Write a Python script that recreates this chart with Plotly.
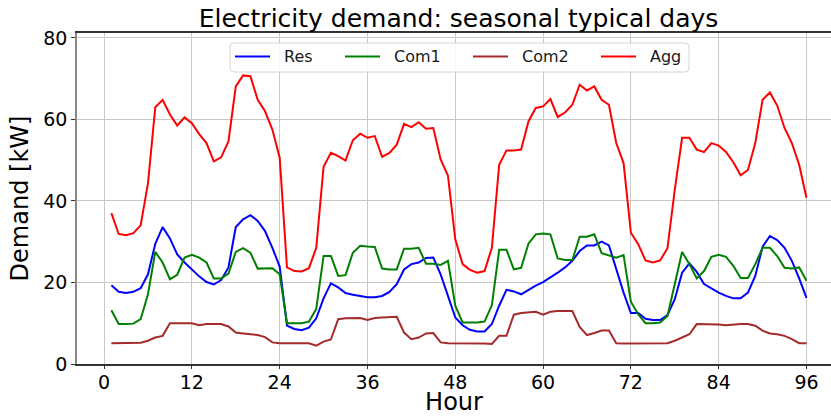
import plotly.graph_objects as go

# Hourly demand [kW] over four seasonal typical days (96 hours)
hours = list(range(1, 97))

res = [19.3, 17.7, 17.4, 17.7, 18.6, 22.0, 29.5, 33.6, 30.8, 26.9, 24.9, 23.1,
       21.5, 20.1, 19.5, 20.6, 23.7, 33.6, 35.5, 36.5, 35.1, 32.6, 28.5, 23.9,
       9.4, 8.6, 8.3, 8.9, 11.2, 16.1, 19.8, 18.8, 17.4, 17.0, 16.7, 16.4,
       16.4, 16.7, 17.7, 19.6, 23.2, 24.5, 24.9, 26.0, 26.1, 22.0, 16.7, 11.4,
       9.5, 8.4, 8.0, 8.0, 9.8, 14.3, 18.2, 17.8, 17.1, 18.2, 19.2, 20.1,
       21.2, 22.4, 23.7, 25.3, 27.7, 29.1, 29.1, 30.0, 29.1, 23.2, 17.5, 12.5,
       12.5, 11.1, 10.8, 10.8, 12.0, 15.9, 22.4, 24.7, 22.6, 19.6, 18.5, 17.5,
       16.7, 16.1, 16.1, 17.5, 21.6, 28.8, 31.4, 30.4, 28.5, 25.3, 21.0, 16.2]

com1 = [13.2, 9.8, 9.8, 9.9, 11.0, 17.1, 27.5, 24.9, 20.8, 21.9, 26.1, 26.8,
        26.1, 24.9, 21.0, 21.0, 22.2, 27.5, 28.4, 27.3, 23.4, 23.4, 23.5, 22.0,
        10.0, 10.0, 10.0, 10.4, 13.5, 26.5, 26.5, 21.6, 21.8, 27.3, 29.0, 28.8,
        28.7, 23.4, 23.2, 23.2, 28.3, 28.3, 28.5, 24.6, 24.6, 24.3, 25.3, 14.3,
        10.2, 10.2, 10.2, 10.4, 14.4, 28.0, 28.0, 23.2, 23.6, 29.5, 31.8, 32.0,
        31.8, 25.9, 25.5, 25.5, 31.2, 31.2, 31.8, 27.2, 26.7, 26.1, 26.7, 15.3,
        12.2, 10.0, 10.0, 10.2, 11.8, 19.6, 27.5, 24.5, 21.0, 22.8, 26.3, 26.8,
        26.3, 24.1, 21.1, 21.1, 24.5, 28.5, 28.5, 26.5, 23.6, 23.4, 23.7, 20.4]

com2 = [5.1, 5.1, 5.1, 5.1, 5.2, 5.7, 6.5, 6.9, 10.0, 10.0, 10.0, 10.0,
        9.5, 9.8, 9.8, 9.8, 9.2, 7.7, 7.5, 7.3, 7.1, 6.6, 5.3, 5.1,
        5.1, 5.1, 5.1, 5.1, 4.5, 5.5, 6.0, 11.0, 11.2, 11.3, 11.3, 10.8,
        11.3, 11.4, 11.5, 11.6, 7.7, 6.1, 6.5, 7.5, 7.6, 5.3, 5.1, 5.1,
        5.0, 5.0, 5.0, 5.0, 4.9, 6.9, 6.9, 12.1, 12.5, 12.6, 12.8, 12.1,
        12.8, 13.0, 13.0, 13.0, 9.1, 7.1, 7.6, 8.2, 8.2, 5.1, 5.0, 5.0,
        5.0, 5.0, 5.1, 5.1, 5.1, 5.7, 6.5, 7.3, 9.8, 9.8, 9.8, 9.7,
        9.5, 9.7, 9.8, 9.8, 9.4, 8.2, 7.5, 7.3, 6.9, 6.1, 5.1, 5.1]

agg = [37.0, 31.9, 31.6, 32.1, 34.0, 44.3, 63.0, 64.8, 61.2, 58.5, 60.5, 59.1,
       56.4, 54.2, 49.7, 50.7, 54.6, 68.1, 70.8, 70.6, 64.8, 62.0, 57.5, 50.6,
       23.7, 22.8, 22.7, 23.5, 28.5, 48.4, 51.8, 51.0, 49.9, 54.9, 56.5, 55.5,
       55.9, 50.8, 51.8, 53.8, 58.9, 58.1, 59.3, 57.7, 57.9, 50.2, 46.2, 30.6,
       24.5, 23.1, 22.4, 22.8, 28.5, 48.9, 52.4, 52.4, 52.6, 59.5, 62.8, 63.2,
       65.0, 60.6, 61.7, 63.6, 68.5, 67.1, 68.1, 64.8, 63.6, 54.2, 49.3, 32.2,
       29.4, 25.4, 24.9, 25.4, 28.4, 42.8, 55.5, 55.5, 52.6, 52.0, 54.2, 53.6,
       52.0, 49.5, 46.3, 47.6, 54.2, 64.8, 66.6, 63.4, 57.9, 54.2, 48.9, 40.8]

x_ticks = [0, 12, 24, 36, 48, 60, 72, 84, 96]
y_ticks = [0, 20, 40, 60, 80]

series = [("Res", res, "blue"), ("Com1", com1, "green"),
          ("Com2", com2, "brown"), ("Agg", agg, "red")]

FONT = "DejaVu Sans"

# figure / plot-area geometry in pixels
W, H = 831, 416
ML, MR, MT, MB = 77, 0, 33, 52
PW, PH = W - ML - MR, H - MT - MB


def px(x):
    """pixel column -> paper x"""
    return (x - ML) / PW


def py(y):
    """pixel row (from top) -> paper y"""
    return (H - MB - y) / PH


fig = go.Figure()
for name, vals, color in series:
    fig.add_trace(go.Scatter(x=hours, y=vals, name=name, mode="lines",
                             line=dict(color=color, width=2),
                             showlegend=False))

# Legend: framed single row at the top centre of the axes
box_l, box_r, box_t, box_b, rad = 230, 689, 43, 72, 4
path = (f"M {px(box_l + rad)},{py(box_t)} L {px(box_r - rad)},{py(box_t)} "
        f"Q {px(box_r)},{py(box_t)} {px(box_r)},{py(box_t + rad)} "
        f"L {px(box_r)},{py(box_b - rad)} "
        f"Q {px(box_r)},{py(box_b)} {px(box_r - rad)},{py(box_b)} "
        f"L {px(box_l + rad)},{py(box_b)} "
        f"Q {px(box_l)},{py(box_b)} {px(box_l)},{py(box_b - rad)} "
        f"L {px(box_l)},{py(box_t + rad)} "
        f"Q {px(box_l)},{py(box_t)} {px(box_l + rad)},{py(box_t)} Z")
shapes = [dict(type="path", xref="paper", yref="paper", path=path,
               fillcolor="rgba(255,255,255,0.8)",
               line=dict(color="#d4d4d4", width=1), layer="above")]
annotations = []
entry_x = [235, 345, 473, 601]
row_y = 56.5
for (name, _, color), x0 in zip(series, entry_x):
    shapes.append(dict(type="line", xref="paper", yref="paper",
                       x0=px(x0), x1=px(x0 + 35), y0=py(row_y), y1=py(row_y),
                       line=dict(color=color, width=2), layer="above"))
    annotations.append(dict(text=name, xref="paper", yref="paper",
                            x=px(x0 + 47), y=py(row_y), xanchor="left",
                            yanchor="middle", showarrow=False,
                            font=dict(size=16, family=FONT, color="#1a1a1a")))

fig.update_layout(
    width=W, height=H,
    margin=dict(l=ML, r=MR, t=MT, b=MB),
    paper_bgcolor="white", plot_bgcolor="white",
    font=dict(family=FONT, color="#000000"),
    title=dict(text="Electricity demand: seasonal typical days",
               font=dict(size=25, family=FONT, color="#000000"),
               x=px(458.5), xref="paper", xanchor="center",
               y=0.957, yref="container", yanchor="middle"),
    shapes=shapes, annotations=annotations,
    showlegend=False,
)

fig.update_xaxes(
    range=[-3.7, 99.35], tickvals=x_ticks, ticktext=[str(t) for t in x_ticks],
    tickfont=dict(size=19, family=FONT, color="#000000"),
    ticklabelstandoff=-3,
    title=dict(text="Hour", font=dict(size=24, family=FONT, color="#000000"),
               standoff=11),
    showgrid=True, gridcolor="#c8c8c8", gridwidth=1,
    showline=True, linecolor="#333333", linewidth=1.5, mirror=True,
    ticks="outside", ticklen=3, tickcolor="#333333", zeroline=False,
    automargin=False,
)
fig.update_yaxes(
    range=[0, 81.2], tickvals=y_ticks, ticktext=[str(t) for t in y_ticks],
    tickfont=dict(size=19, family=FONT, color="#000000"),
    title=dict(text="Demand [kW]", font=dict(size=24, family=FONT, color="#000000"),
               standoff=8),
    showgrid=True, gridcolor="#c8c8c8", gridwidth=1,
    showline=True, linecolor="#888888", linewidth=1.5,
    ticks="outside", ticklen=4, tickcolor="#333333", zeroline=False,
    automargin=False,
)

fig.write_html("out.html")
